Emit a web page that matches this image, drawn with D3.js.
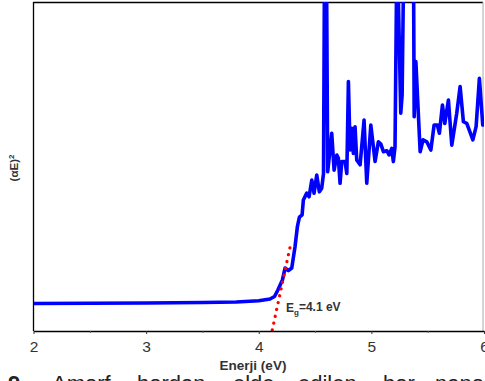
<!DOCTYPE html>
<html>
<head>
<meta charset="utf-8">
<script src="https://cdn.jsdelivr.net/npm/d3@7"></script>
<style>
  body { margin: 0; background: #fff; }
  svg { display: block; font-family: Arial, "Liberation Sans", sans-serif; }
</style>
</head>
<body>
<svg id="chart" width="485" height="381"></svg>
<script>
// photon energy (eV) and (αE)^2 in arbitrary units
const energy = [2.0, 2.5, 3.0, 3.5, 3.8, 4.0, 4.1, 4.14, 4.17, 4.21, 4.234, 4.263, 4.293,
  4.322, 4.343, 4.361, 4.385, 4.396, 4.426, 4.447, 4.471, 4.491, 4.515, 4.538, 4.559,
  4.575, 4.585, 4.592, 4.600, 4.612, 4.648, 4.669, 4.693, 4.707, 4.722, 4.737, 4.766,
  4.782, 4.796, 4.811, 4.826, 4.840, 4.855, 4.870, 4.900, 4.935, 4.959, 4.995, 5.033,
  5.062, 5.084, 5.107, 5.137, 5.157, 5.181, 5.195, 5.210, 5.228, 5.261, 5.273, 5.290,
  5.373, 5.380, 5.395, 5.433, 5.459, 5.492, 5.528, 5.557, 5.586, 5.604, 5.631, 5.652,
  5.684, 5.714, 5.758, 5.788, 5.817, 5.847, 5.901, 5.930, 5.959, 5.989, 6.0];
const alphaE2 = [0.836, 0.842, 0.851, 0.866, 0.881, 0.918, 0.973, 1.049, 1.246, 1.55, 1.915, 1.833, 1.915,
  2.56, 3.17, 3.46, 3.53, 3.98, 4.19, 4.08, 4.59, 4.19, 4.74, 4.23, 4.34,
  4.79, 12, 6.4, 12, 4.84, 6.01, 4.89, 5.35, 5.25, 4.49, 5.15, 5.15,
  4.79, 7.58, 5.50, 6.16, 5.40, 6.21, 5.20, 5.05, 6.41, 4.49, 6.26, 5.15,
  5.75, 5.68, 5.45, 5.48, 5.35, 5.55, 5.15, 5.60, 12, 6.62, 7.17, 12,
  12, 6.51, 8.19, 5.45, 5.81, 5.75, 5.50, 6.26, 6.26, 6.01, 6.87, 6.31,
  7.02, 5.65, 6.62, 7.43, 6.36, 6.31, 5.81, 6.21, 7.68, 6.26, 6.26];

// linear extrapolation of the absorption edge (Tauc fit)
const fitE = [4.12, 4.278];
const fitY = [0.03, 2.55];

const majorTicks = [2, 3, 4, 5, 6];
const minorTicks = [2.5, 3.5, 4.5, 5.5];
const captionWords = ["Amorf", "bordan", "elde", "edilen", "bor", "nano"];
const captionX = [52, 137, 233, 298, 383, 435];

const svg = d3.select("#chart");
const mLeft = 33.5, mRight = 484, mTop = 2, mBottom = 331;

const x = d3.scaleLinear().domain([2, 6]).range([mLeft, mRight]);
const y = d3.scaleLinear().domain([0, 10]).range([mBottom, mTop]);

svg.append("clipPath").attr("id", "plotclip")
  .append("rect").attr("x", mLeft).attr("y", mTop)
  .attr("width", mRight - mLeft).attr("height", mBottom - mTop);

// frame: top and left black, right faint
svg.append("line").attr("x1", mLeft).attr("x2", mRight - 1).attr("y1", mTop + 0.5).attr("y2", mTop + 0.5)
  .attr("stroke", "#000").attr("stroke-width", 1.3);
svg.append("line").attr("x1", mLeft).attr("x2", mLeft).attr("y1", mTop).attr("y2", mBottom)
  .attr("stroke", "#000").attr("stroke-width", 1.3);
svg.append("line").attr("x1", mRight - 1).attr("x2", mRight - 1).attr("y1", mTop).attr("y2", mBottom)
  .attr("stroke", "#aaa").attr("stroke-width", 1);

const plot = svg.append("g").attr("clip-path", "url(#plotclip)");

const pts = energy.map((e, i) => [e, alphaE2[i]]);
const line = d3.line().x(d => x(d[0])).y(d => y(d[1]));

plot.append("path").datum(pts)
  .attr("d", line)
  .attr("fill", "none")
  .attr("stroke", "#0000ff")
  .attr("stroke-width", 3.6)
  .attr("stroke-linejoin", "round");

plot.append("path").datum(fitE.map((e, i) => [e, fitY[i]]))
  .attr("d", line)
  .attr("fill", "none")
  .attr("stroke", "#ff0000")
  .attr("stroke-width", 3.2)
  .attr("stroke-linecap", "round")
  .attr("stroke-dasharray", "0.1,6.9");

// bottom axis
const xAxis = d3.axisBottom(x).tickValues(majorTicks).tickSize(3).tickSizeOuter(0)
  .tickFormat(d3.format("d"));
const gx = svg.append("g").attr("transform", "translate(0," + mBottom + ")").call(xAxis);
gx.select(".domain").attr("stroke", "#000").attr("stroke-width", 1.4);
gx.selectAll(".tick line").attr("stroke", "#333");
gx.selectAll(".tick text").attr("font-size", 15.5).attr("fill", "#333")
  .attr("font-family", "Arial, 'Liberation Sans', sans-serif").attr("dy", "0.95em");

const gm = svg.append("g").attr("transform", "translate(0," + mBottom + ")")
  .call(d3.axisBottom(x).tickValues(minorTicks).tickSize(2).tickFormat(""));
gm.select(".domain").remove();
gm.selectAll(".tick line").attr("stroke", "#555");

// labels
svg.append("text")
  .attr("x", 253).attr("y", 370)
  .attr("text-anchor", "middle")
  .attr("font-size", 13.5).attr("font-weight", "bold").attr("fill", "#333")
  .text("Enerji (eV)");

const yl = svg.append("text")
  .attr("transform", "translate(18,168) rotate(-90)")
  .attr("text-anchor", "middle")
  .attr("font-size", 11.5).attr("font-weight", "bold").attr("fill", "#333");
yl.append("tspan").text("(αE)");
yl.append("tspan").attr("dy", "-0.45em").attr("font-size", 8).text("2");

const eg = svg.append("text")
  .attr("x", 286).attr("y", 312)
  .attr("font-size", 12).attr("font-weight", "bold").attr("fill", "#333");
eg.append("tspan").text("E");
eg.append("tspan").attr("dy", "0.35em").attr("font-size", 8).text("g");
eg.append("tspan").attr("dy", "-0.3em").text("=4.1 eV");

// caption below the figure (cut off by the page)
svg.append("text").attr("x", 8).attr("y", 391)
  .attr("font-size", 22).attr("font-weight", "bold").attr("fill", "#222").text("9.");
svg.selectAll("text.cap").data(captionWords).join("text")
  .attr("class", "cap")
  .attr("x", (d, i) => captionX[i]).attr("y", 391)
  .attr("font-size", 22).attr("fill", "#222")
  .text(d => d);
</script>
</body>
</html>
